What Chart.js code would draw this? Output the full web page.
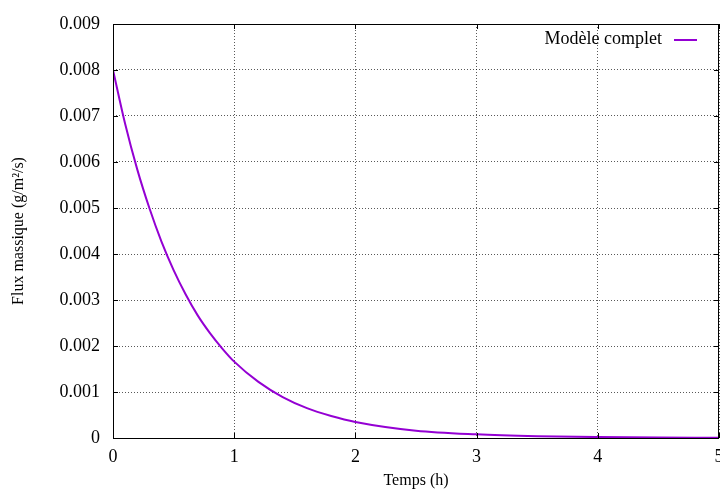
<!DOCTYPE html>
<html lang="fr">
<head>
  <meta charset="UTF-8">
  <title>Flux massique</title>
  <script src="https://cdn.jsdelivr.net/npm/chart.js"></script>
  <style>
    body { margin: 0; background: #fff; }
    canvas { display: block; }
  </style>
</head>
<body>
  <canvas id="fluxChart" width="720" height="494"></canvas>

  <script>
    // values
    const temps = [0, 0.1, 0.2, 0.3, 0.4, 0.5, 0.6, 0.7, 0.8, 0.9, 1.0, 1.2, 1.4, 1.6, 1.8, 2.0, 2.5, 3.0, 3.5, 4.0, 4.5, 5.0];
    const flux = [0.0080, 0.00683, 0.00584, 0.0050, 0.00427, 0.00365, 0.00312, 0.00266, 0.00228, 0.00195, 0.00166,
                  0.00122, 0.00089, 0.00065, 0.00048, 0.00035, 0.00016, 0.00008, 0.00004, 0.00002, 0.00001, 0.000005];
    const xTicks = [0, 1, 2, 3, 4, 5];
    const yTicks = [0, 0.001, 0.002, 0.003, 0.004, 0.005, 0.006, 0.007, 0.008, 0.009];

    const serif = '"Liberation Serif", "DejaVu Serif", serif';
    const lineColor = '#9400d3';

    // gnuplot-like frame, inward ticks and legend inside the plot
    const framePlugin = {
      id: 'frame',
      afterDatasetsDraw(chart) {
        const { ctx, chartArea: a, scales } = chart;
        ctx.save();
        ctx.strokeStyle = '#000';
        ctx.lineWidth = 1;
        ctx.strokeRect(a.left + 0.5, a.top + 0.5, a.right - a.left - 1, a.bottom - a.top);
        ctx.beginPath();
        scales.x.ticks.forEach(t => {
          const px = Math.round(scales.x.getPixelForValue(t.value)) + 0.5;
          ctx.moveTo(px, a.bottom); ctx.lineTo(px, a.bottom - 5);
          ctx.moveTo(px, a.top); ctx.lineTo(px, a.top + 5);
        });
        scales.y.ticks.forEach(t => {
          const py = Math.round(scales.y.getPixelForValue(t.value)) + 0.5;
          ctx.moveTo(a.left, py); ctx.lineTo(a.left + 5, py);
          ctx.moveTo(a.right, py); ctx.lineTo(a.right - 5, py);
        });
        ctx.stroke();

        // legend
        const label = chart.data.datasets[0].label;
        ctx.font = '18px ' + serif;
        ctx.fillStyle = '#000';
        ctx.textAlign = 'right';
        ctx.textBaseline = 'middle';
        ctx.fillText(label, a.right - 57, a.top + 15);
        ctx.strokeStyle = lineColor;
        ctx.lineWidth = 2;
        ctx.beginPath();
        ctx.moveTo(a.right - 45, a.top + 16);
        ctx.lineTo(a.right - 22, a.top + 16);
        ctx.stroke();
        ctx.restore();
      }
    };

    const gridStyle = {
      color: 'rgba(0,0,0,0.65)',
      lineWidth: 1,
      drawTicks: false
    };

    const ctx = document.getElementById('fluxChart').getContext('2d');
    new Chart(ctx, {
      type: 'line',
      data: {
        datasets: [{
          label: 'Modèle complet',
          data: temps.map((t, i) => ({ x: t, y: flux[i] })),
          borderColor: lineColor,
          borderWidth: 2,
          pointRadius: 0,
          cubicInterpolationMode: 'monotone',
          fill: false
        }]
      },
      options: {
        responsive: false,
        animation: false,
        layout: { padding: { top: 24, right: 1, left: 0, bottom: 0 } },
        plugins: {
          legend: { display: false },
          tooltip: { enabled: false }
        },
        scales: {
          x: {
            type: 'linear',
            min: 0,
            max: 5,
            grid: gridStyle,
            border: { display: false, dash: [1, 2] },
            afterBuildTicks: s => { s.ticks = xTicks.map(v => ({ value: v })); },
            afterFit: s => { s.height = 56; s.paddingLeft = 0; s.paddingRight = 0; },
            ticks: {
              color: '#000',
              padding: 8,
              maxRotation: 0,
              font: { family: serif, size: 18 },
              callback: v => String(v)
            },
            title: {
              display: true,
              text: 'Temps (h)',
              color: '#000',
              padding: { top: 0, bottom: 4 },
              font: { family: serif, size: 16 }
            }
          },
          y: {
            min: 0,
            max: 0.009,
            grid: gridStyle,
            border: { display: false, dash: [1, 2] },
            afterBuildTicks: s => { s.ticks = yTicks.map(v => ({ value: v })); },
            afterFit: s => { s.width = 113; },
            ticks: {
              color: '#000',
              padding: 13,
              font: { family: serif, size: 18 },
              callback: v => v === 0 ? '0' : v.toFixed(3)
            },
            title: {
              display: true,
              text: 'Flux massique (g/m²/s)',
              color: '#000',
              padding: { top: 9, bottom: 0 },
              font: { family: serif, size: 16 }
            }
          }
        }
      },
      plugins: [framePlugin]
    });
  </script>
</body>
</html>
